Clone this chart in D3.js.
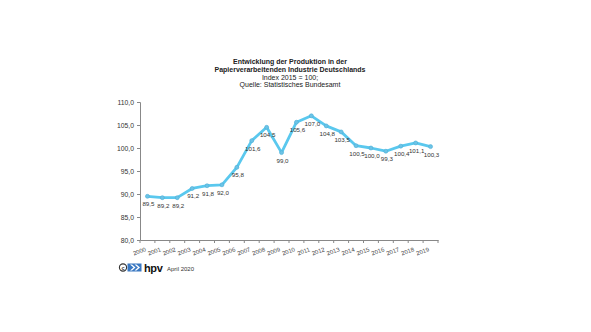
<!DOCTYPE html>
<html><head><meta charset="utf-8">
<script src="https://cdn.jsdelivr.net/npm/d3@7"></script>
<style>body{margin:0;background:#fff}svg{display:block;font-family:"Liberation Sans",Arial,sans-serif}</style>
</head><body>
<svg id="c" width="591" height="332"></svg>
<script>
const years = ["2000","2001","2002","2003","2004","2005","2006","2007","2008","2009","2010","2011","2012","2013","2014","2015","2016","2017","2018","2019"];
const values = [89.5,89.2,89.2,91.2,91.8,92.0,95.8,101.6,104.5,99.0,105.6,107.0,104.8,103.5,100.5,100.0,99.3,100.4,101.1,100.3];
const yTicks = [80,85,90,95,100,105,110];
const titleLines = ["Entwicklung der Produktion in der","Papierverarbeitenden Industrie Deutschlands","Index 2015 = 100;","Quelle: Statistisches Bundesamt"];

const svg = d3.select("#c");
const fmt = v => d3.format(".1f")(v).replace(".", ",");
const x = d3.scaleBand().domain(years).range([140, 438]);
const y = d3.scaleLinear().domain([80, 110]).range([240, 102]);

// title
titleLines.forEach((t, i) => {
  svg.append("text").attr("x", 290).attr("y", 64 + i * 7.8)
    .attr("text-anchor", "middle").attr("font-size", 7)
    .attr("font-weight", i < 2 ? "bold" : "normal").attr("fill", "#222").text(t);
});

// y axis
const ya = svg.append("g").attr("transform", "translate(140,0)")
  .call(d3.axisLeft(y).tickValues(yTicks).tickFormat(fmt).tickSize(3));
ya.select(".domain").attr("stroke", "#888");
ya.selectAll("line").attr("stroke", "#888");
ya.selectAll("text").attr("font-size", 6.8).attr("fill", "#333").attr("font-family", "Liberation Sans, Arial");

// x axis
const xa = svg.append("g").attr("transform", "translate(0,240)")
  .call(d3.axisBottom(x).tickSize(0).tickSizeOuter(0));
xa.select(".domain").attr("stroke", "#888");
xa.selectAll(".tick line").remove();
xa.selectAll(".tick text").attr("font-size", 6).attr("fill", "#444")
  .attr("font-family", "Liberation Sans, Arial")
  .attr("text-anchor", "end").attr("dy", 0).attr("y", 0)
  .attr("transform", "translate(-1,11) rotate(-20)");
// category separators
const seps = years.map(d => x(d)).concat([438]);
svg.append("g").selectAll("line").data(seps).join("line")
  .attr("x1", d => d).attr("x2", d => d).attr("y1", 240).attr("y2", 243)
  .attr("stroke", "#888");

// line
const cx = d => x(d) + x.bandwidth() / 2;
svg.append("path").datum(values)
  .attr("d", d3.line().x((d, i) => cx(years[i])).y(d => y(d)))
  .attr("fill", "none").attr("stroke", "#5ac8ee").attr("stroke-width", 2.8)
  .attr("stroke-linejoin", "round");
svg.append("g").selectAll("circle").data(values).join("circle")
  .attr("cx", (d, i) => cx(years[i])).attr("cy", d => y(d)).attr("r", 2)
  .attr("fill", "#6cc3e6").attr("stroke", "#4aaed6").attr("stroke-width", 0.6);

// data labels
svg.append("g").selectAll("text").data(values).join("text")
  .attr("x", (d, i) => cx(years[i]) + 1).attr("y", d => y(d) + 10)
  .attr("text-anchor", "middle").attr("font-size", 6.2).attr("fill", "#333")
  .text(d => fmt(d));

// footer logo
const f = svg.append("g");
f.append("circle").attr("cx", 123).attr("cy", 267.5).attr("r", 3.6).attr("fill", "none").attr("stroke", "#333").attr("stroke-width", 1.1);
f.append("text").attr("x", 123).attr("y", 269.6).attr("text-anchor", "middle").attr("font-size", 5.5).attr("font-weight", "bold").attr("fill", "#333").text("c");
f.append("rect").attr("x", 127.5).attr("y", 263.5).attr("width", 14).attr("height", 8).attr("fill", "#3a78c2");
[0, 4.5].forEach(o => {
  f.append("path").attr("d", `M${130 + o},264.5 L${133.5 + o},267.5 L${130 + o},270.5 L${132 + o},270.5 L${135.5 + o},267.5 L${132 + o},264.5 Z`).attr("fill", "#fff");
});
f.append("text").attr("x", 144).attr("y", 271.5).attr("font-size", 11).attr("font-weight", "bold").attr("fill", "#111").attr("letter-spacing", -0.4).text("hpv");
f.append("text").attr("x", 167).attr("y", 270.5).attr("font-size", 6).attr("fill", "#333").text("April 2020");
</script>
</body></html>
